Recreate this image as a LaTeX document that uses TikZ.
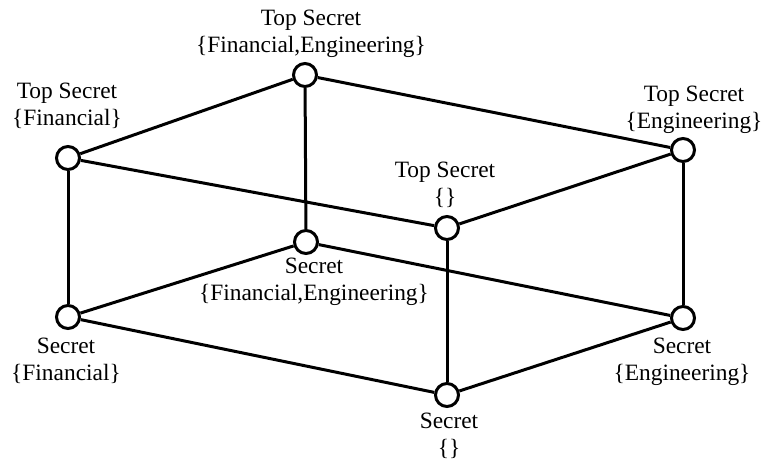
\documentclass[tikz,border=0pt]{standalone}
\usepackage{fontspec}
\setmainfont{Liberation Serif}
\begin{document}
\begin{tikzpicture}[
    x=0.5pt, y=-0.5pt,
    every node/.style={font=\fontsize{11.7}{13.5}\selectfont},
    punto/.style={draw, circle, fill=white, line width=1.5pt, minimum size=11.5pt, inner sep=0pt},
    etiqueta/.style={align=center, anchor=base, inner sep=0pt},
    arista/.style={line width=1.5pt}
]
\useasboundingbox (0,0) rectangle (762,463);
% Nivel Top Secret
\node[punto] (tsFE) at (305,75) {};
\node[punto] (tsF) at (68,158) {};
\node[punto] (tsE) at (683,150) {};
\node[punto] (ts) at (447,228) {};
% Nivel Secret
\node[punto] (sFE) at (306,242) {};
\node[punto] (sF) at (68,317) {};
\node[punto] (sE) at (683,318) {};
\node[punto] (s) at (447,395) {};
% Etiquetas
\node[etiqueta] (etsFE) at (311,52) {Top Secret\\\{Financial,Engineering\}};
\node[etiqueta] (etsF) at (67,125) {Top Secret\\\{Financial\}};
\node[etiqueta] (etsE) at (694,128) {Top Secret\\\{Engineering\}};
\node[etiqueta] (ets) at (445,204) {Top Secret\\\{\}};
\node[etiqueta] (esFE) at (314,300) {Secret\\\{Financial,Engineering\}};
\node[etiqueta] (esF) at (66,380) {Secret\\\{Financial\}};
\node[etiqueta] (esE) at (682,380) {Secret\\\{Engineering\}};
\node[etiqueta] (es) at (449,455) {Secret\\\{\}};
% Aristas
\draw[arista] (tsFE) -- (tsF);
\draw[arista] (tsFE) -- (tsE);
\draw[arista] (tsFE) -- (sFE);
\draw[arista] (tsF) -- (ts);
\draw[arista] (tsE) -- (ts);
\draw[arista] (tsF) -- (sF);
\draw[arista] (tsE) -- (sE);
\draw[arista] (ts) -- (s);
\draw[arista] (sFE) -- (sF);
\draw[arista] (sFE) -- (sE);
\draw[arista] (sF) -- (s);
\draw[arista] (sE) -- (s);
\end{tikzpicture}
\end{document}
